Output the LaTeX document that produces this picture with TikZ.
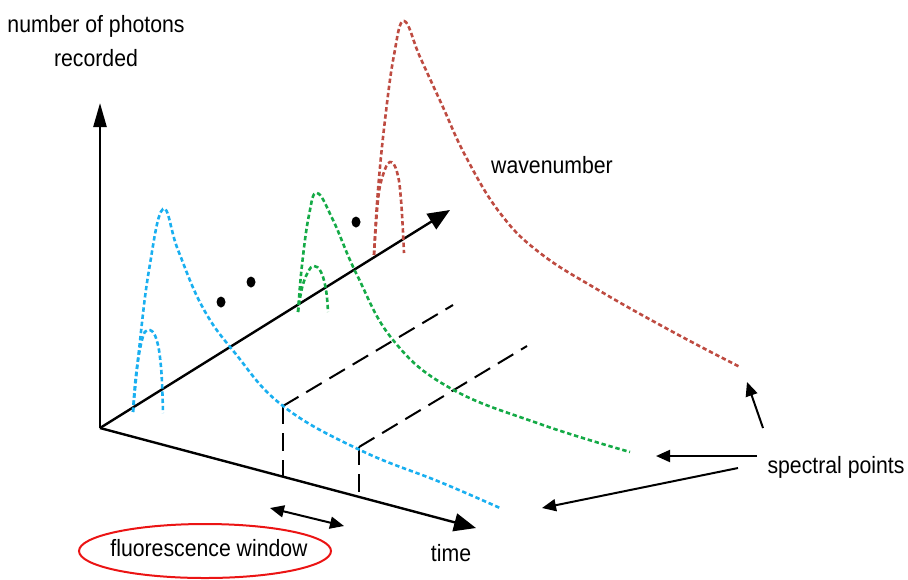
\documentclass[tikz,border=0pt]{standalone}
\usepackage{fontspec}
\setmainfont{Liberation Sans}
\usetikzlibrary{arrows.meta,shapes.geometric}
\definecolor{cblue}{RGB}{25,175,240}
\definecolor{cgreen}{RGB}{20,170,70}
\definecolor{cred}{RGB}{190,75,65}
\definecolor{ered}{RGB}{235,20,20}
\newcommand{\lbl}[1]{\scalebox{0.9}[1]{#1}}
\tikzset{
  axis/.style={line width=1.2pt, -{Triangle[length=11pt,width=9pt]}},
  curve/.style={line width=1.3pt, dash pattern=on 2.2pt off 1.4pt, smooth, tension=0.7},
  guide/.style={line width=1pt, dash pattern=on 9pt off 4.5pt},
  pointer/.style={line width=1pt, -{Triangle[length=7pt,width=6pt]}},
  txt/.style={font=\fontsize{11.8}{14}\selectfont, inner sep=0pt},
  blob/.style={fill=black, draw=none}
}
\begin{document}
\begin{tikzpicture}[x=0.5pt,y=-0.5pt]
\useasboundingbox (0,0) rectangle (908,579);
% axes
\coordinate (O) at (100,428);
\coordinate (ytip) at (100,103);
\coordinate (wtip) at (450,210);
\coordinate (ttip) at (476,528);
\draw[line width=1.2pt, -{Triangle[length=12pt,width=6.5pt]}] (O) -- (ytip);
\draw[axis] (O) -- (wtip);
\draw[axis] (O) -- (ttip);
% guide lines
\coordinate (g1) at (283,406);
\coordinate (g1b) at (283,477);
\coordinate (g1e) at (453,305);
\coordinate (g2) at (359,447);
\coordinate (g2b) at (359,497);
\coordinate (g2e) at (527,346);
\draw[guide] (g1) -- (g1b);
\draw[guide] (g1) -- (g1e);
\draw[guide] (g2) -- (g2b);
\draw[guide] (g2) -- (g2e);
% blue curves
\draw[curve, cblue] plot coordinates {(133,412) (139,350) (149,270) (163,209) (178,250) (203,308) (235,353) (283,406) (360,450) (440,482) (500,508)};
\draw[curve, cblue] plot coordinates {(133,412) (136,375) (142,340) (148,330) (156,338) (161,367) (163,413)};
% green curves
\draw[curve, cgreen] plot coordinates {(298,312) (302,265) (309,215) (317,193) (333,220) (357,275) (393,340) (450,388) (540,424) (630,452)};
\draw[curve, cgreen] plot coordinates {(298,312) (302,288) (308,272) (314,266) (321,272) (326,290) (328,312)};
% red curves
\draw[curve, cred] plot coordinates {(374,255) (378,190) (385,120) (394,55) (404,21) (420,57) (442,105) (466,157) (500,213) (540,253) (600,291) (673,332) (740,367)};
\draw[curve, cred] plot coordinates {(374,255) (378,200) (383,175) (390,162) (397,172) (401,200) (404,253)};
% dots
\fill[blob] (221,302) ellipse (4.5 and 5.5);
\fill[blob] (251,282) ellipse (4.5 and 5.5);
\fill[blob] (356,222) ellipse (4.5 and 5.5);
% labels
\node[txt] (ylab1) at (96,26) {\lbl{number of photons}};
\node[txt] (ylab2) at (96,58) {\lbl{recorded}};
\node[txt] (wlab) at (552,165) {\lbl{wavenumber}};
\node[txt] (tlab) at (451,553) {\lbl{time}};
\node[txt] (splab) at (836,467) {\lbl{spectral points}};
\node[draw=ered, line width=1pt, ellipse, inner sep=0pt, minimum width=126pt, minimum height=27pt] (fw) at (205,551) {};
\node[txt] (fwlab) at (209,548) {\lbl{fluorescence window}};
% window arrow
\coordinate (wa) at (270,508);
\coordinate (wb) at (344,526);
\draw[line width=1pt, {Triangle[length=7pt,width=6pt]}-{Triangle[length=7pt,width=6pt]}] (wa) -- (wb);
% spectral pointers
\coordinate (s1) at (763,428);
\coordinate (s1t) at (747,382);
\coordinate (s2) at (757,456);
\coordinate (s2t) at (656,456);
\coordinate (s3) at (738,468);
\coordinate (s3t) at (542,508);
\draw[pointer] (s1) -- (s1t);
\draw[pointer] (s2) -- (s2t);
\draw[pointer] (s3) -- (s3t);
\end{tikzpicture}
\end{document}
